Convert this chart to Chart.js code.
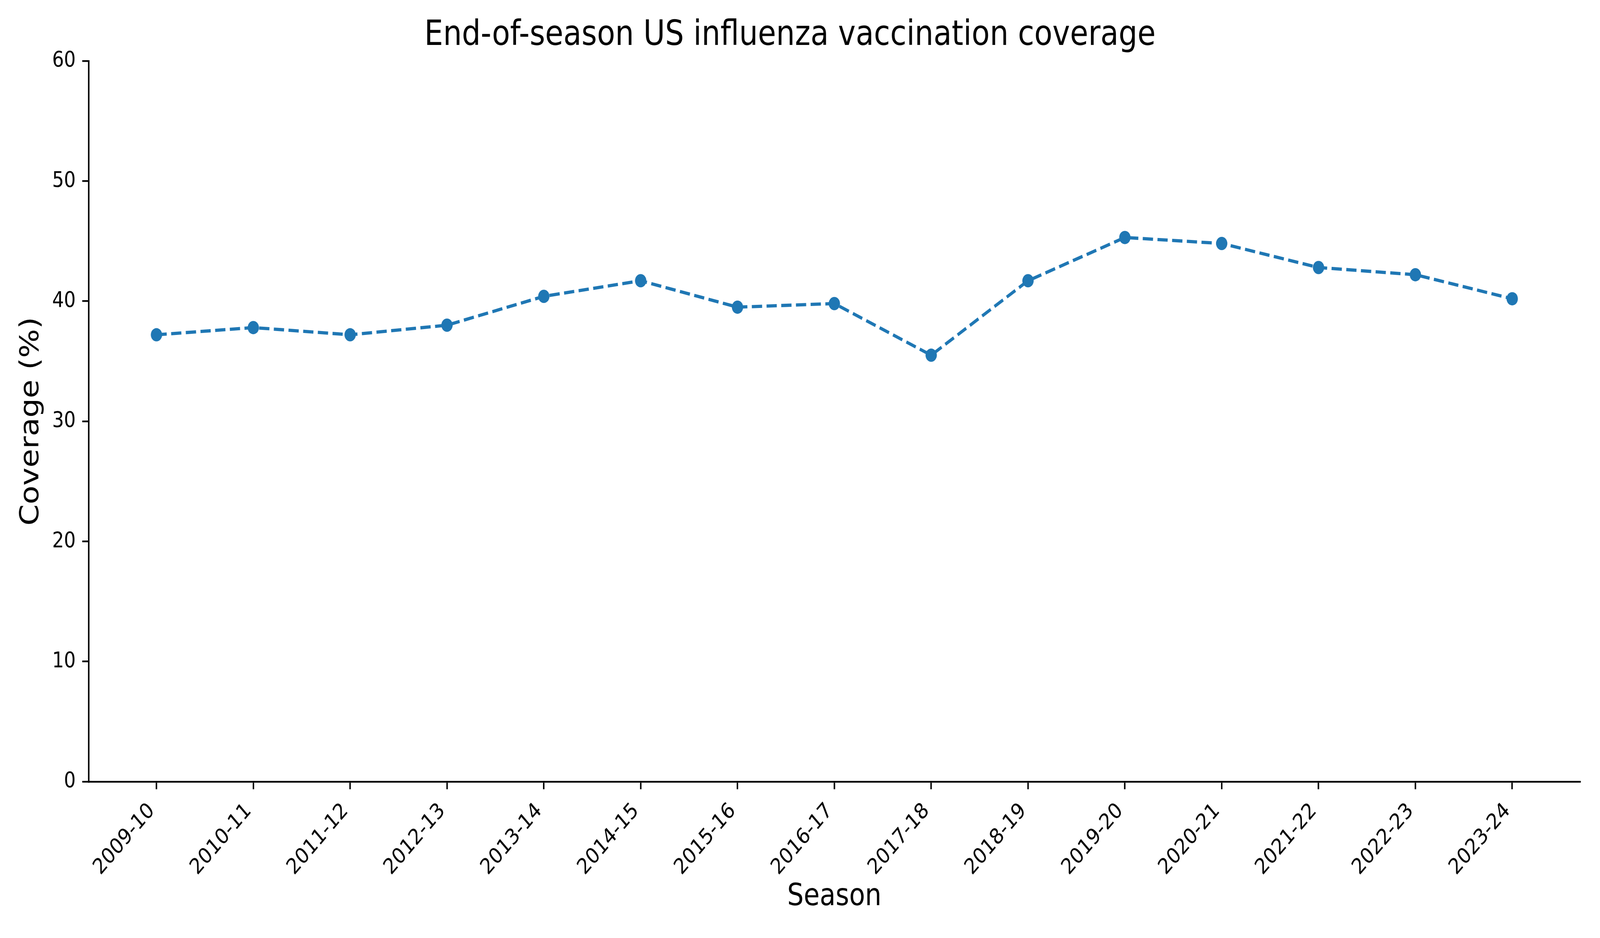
<!DOCTYPE html>
<html>
<head>
<meta charset="utf-8">
<script src="https://cdn.jsdelivr.net/npm/chart.js@4"></script>
<style>
  html, body { margin: 0; padding: 0; background: #fff; overflow: hidden; }
  canvas { display: block; }
</style>
</head>
<body>
<canvas id="fluChart" width="4800" height="2400"></canvas>
<script>
// Datos
const seasons = ['2009-10', '2010-11', '2011-12', '2012-13', '2013-14', '2014-15', '2015-16',
  '2016-17', '2017-18', '2018-19', '2019-20', '2020-21', '2021-22', '2022-23', '2023-24'];
const coverage = [37.2, 37.8, 37.2, 38.0, 40.4, 41.7, 39.5, 39.8, 35.5, 41.7, 45.3, 44.8, 42.8, 42.2, 40.2];
const yTicks = [0, 10, 20, 30, 40, 50, 60];

const blue = '#1f77b4';
Chart.defaults.font.family = '"DejaVu Sans", sans-serif';
Chart.defaults.color = '#000';

// El lienzo se dibuja a 4800x2400 y se ajusta a la ventana visible
const canvas = document.getElementById('fluChart');
canvas.style.width = window.innerWidth + 'px';
canvas.style.height = window.innerHeight + 'px';
const ctx = canvas.getContext('2d');

new Chart(ctx, {
  type: 'line',
  data: {
    datasets: [{
      label: 'Coverage',
      data: coverage.map((v, i) => ({ x: i, y: v })),
      borderColor: blue,
      backgroundColor: blue,
      borderWidth: 8.3,
      borderDash: [30.8, 13.3],
      pointRadius: 17,
      pointBackgroundColor: blue,
      pointBorderWidth: 0,
      tension: 0,
      fill: false,
      clip: false,
    }],
  },
  options: {
    responsive: false,
    devicePixelRatio: 1,
    animation: false,
    layout: { padding: { top: 0, left: 0, right: 60, bottom: 0 } },
    plugins: {
      legend: { display: false },
      tooltip: { enabled: false },
      title: {
        display: true,
        text: 'End-of-season US influenza vaccination coverage',
        color: '#000',
        font: { size: 89, weight: 'normal' },
        padding: { top: 38, bottom: 11 },
      },
    },
    scales: {
      x: {
        type: 'linear',
        min: -0.7,
        max: 14.7,
        afterBuildTicks: scale => {
          scale.ticks = seasons.map((_, i) => ({ value: i }));
        },
        afterFit: scale => { scale.height = 400; },
        ticks: {
          autoSkip: false,
          minRotation: 45,
          maxRotation: 45,
          padding: 23,
          labelOffset: -14,
          font: { size: 55.6 },
          color: '#000',
          callback: value => seasons[value] ?? '',
        },
        grid: {
          drawOnChartArea: false,
          drawTicks: true,
          tickLength: 19.4,
          lineWidth: 4.4,
          color: '#000',
        },
        border: { display: true, color: '#000', width: 4.4 },
        title: {
          display: true,
          text: 'Season',
          color: '#000',
          font: { size: 78 },
          padding: { top: 0, bottom: 57 },
        },
      },
      y: {
        min: yTicks[0],
        max: yTicks[yTicks.length - 1],
        afterBuildTicks: scale => {
          scale.ticks = yTicks.map(v => ({ value: v }));
        },
        afterFit: scale => { scale.width = 266; },
        ticks: {
          padding: 19.4,
          font: { size: 55.6 },
          color: '#000',
        },
        grid: {
          drawOnChartArea: false,
          drawTicks: true,
          tickLength: 19.4,
          lineWidth: 4.4,
          color: '#000',
        },
        border: { display: true, color: '#000', width: 4.4 },
        title: {
          display: true,
          text: 'Coverage (%)',
          color: '#000',
          font: { size: 78 },
          padding: { top: 48, bottom: 0 },
        },
      },
    },
  },
});
</script>
</body>
</html>
